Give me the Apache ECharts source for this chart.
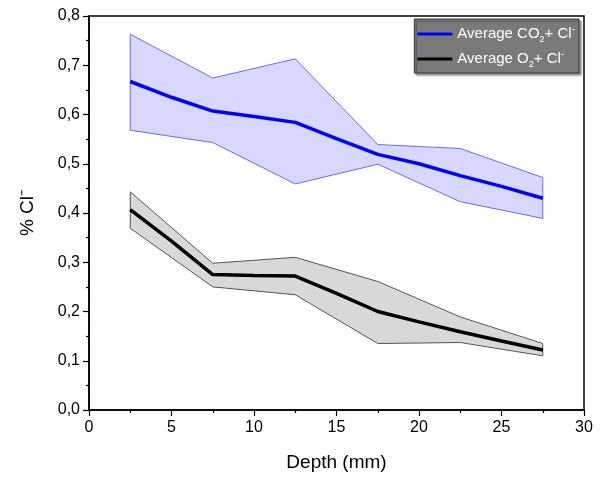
<!DOCTYPE html>
<html>
<head>
<meta charset="utf-8">
<script src="https://cdn.jsdelivr.net/npm/echarts@6/dist/echarts.min.js"></script>
<style>html,body{margin:0;padding:0;background:#fff}#c{width:600px;height:477px}</style>
</head>
<body>
<div id="c"></div>
<script>
// Band data (min / max envelopes)
var xBand = [2.5, 7.5, 12.5, 17.5, 22.5, 27.5];
var co2Upper = [0.763, 0.674, 0.713, 0.539, 0.531, 0.472];
var co2Lower = [0.568, 0.543, 0.459, 0.499, 0.423, 0.389];
var o2Upper = [0.443, 0.298, 0.310, 0.261, 0.189, 0.135];
var o2Lower = [0.369, 0.250, 0.234, 0.135, 0.137, 0.110];
// Average lines
var xMean = [2.5, 5, 7.5, 10, 12.5, 15, 17.5, 20, 22.5, 25, 27.5];
var co2Mean = [0.667, 0.635, 0.607, 0.596, 0.584, 0.551, 0.519, 0.500, 0.476, 0.454, 0.430];
var o2Mean = [0.407, 0.343, 0.275, 0.273, 0.272, 0.237, 0.200, 0.179, 0.159, 0.140, 0.122];
// Axis
var xTicks = [0, 5, 10, 15, 20, 25, 30];
var yTicks = [0, 0.1, 0.2, 0.3, 0.4, 0.5, 0.6, 0.7, 0.8];
var names = ['Average CO2+ Cl-', 'Average O2+ Cl-'];
var legendRich = {
  'Average CO2+ Cl-': '{a|Average CO}{sub|2}{a|+ Cl}{sup|-}',
  'Average O2+ Cl-': '{a|Average O}{sub|2}{a|+ Cl}{sup|-}'
};

function pairs(xs, ys) { return xs.map(function (x, i) { return [x, ys[i]]; }); }

function bandSeries(name, upper, lower, fill, stroke) {
  return {
    type: 'custom', name: name, silent: true, z: 1,
    data: pairs(xBand, upper),
    renderItem: function (params, api) {
      if (params.dataIndex !== 0) return;
      var pts = [];
      for (var i = 0; i < xBand.length; i++) pts.push(api.coord([xBand[i], upper[i]]));
      for (var j = xBand.length - 1; j >= 0; j--) pts.push(api.coord([xBand[j], lower[j]]));
      return {
        type: 'polygon',
        shape: { points: pts },
        style: { fill: fill, stroke: stroke, lineWidth: 1 }
      };
    }
  };
}

var chart = echarts.init(document.getElementById('c'));
chart.setOption({
  animation: false,
  grid: { left: 89, right: 16, top: 16, bottom: 65, show: true, borderColor: '#000', borderWidth: 1.5, backgroundColor: 'transparent' },
  legend: {
    data: names,
    orient: 'vertical',
    right: 21, top: 19,
    backgroundColor: '#7a7a7a',
    borderColor: '#3a3a3a', borderWidth: 1,
    shadowColor: 'rgba(0,0,0,0.45)', shadowOffsetX: 2, shadowOffsetY: 2, shadowBlur: 2,
    padding: [5, 4, 4, 3],
    itemGap: 5,
    itemWidth: 35, itemHeight: 3,
    icon: 'rect',
    formatter: function (n) { return legendRich[n]; },
    textStyle: {
      color: '#fff',
      rich: {
        a: { fontFamily: 'Liberation Sans, Arial', fontSize: 15, color: '#fff', lineHeight: 20 },
        sub: { fontFamily: 'Liberation Sans, Arial', fontSize: 9, color: '#fff', verticalAlign: 'bottom', lineHeight: 20 },
        sup: { fontFamily: 'Liberation Sans, Arial', fontSize: 10, color: '#fff', verticalAlign: 'top', lineHeight: 20 }
      }
    }
  },
  xAxis: {
    type: 'value', min: 0, max: 30, interval: 5,
    name: 'Depth (mm)', nameLocation: 'middle', nameGap: 43,
    nameTextStyle: { fontFamily: 'Liberation Sans, Arial', fontSize: 19, color: '#000' },
    axisLine: { show: true, onZero: false, lineStyle: { color: '#000', width: 1.5 } },
    axisTick: { show: true, length: 6, lineStyle: { color: '#000', width: 1.2 } },
    minorTick: { show: true, splitNumber: 2, length: 3, lineStyle: { color: '#000', width: 1.2 } },
    splitLine: { show: false },
    axisLabel: { fontFamily: 'Liberation Sans, Arial', fontSize: 16, color: '#000', margin: 10,
      formatter: function (v) { return xTicks.indexOf(v) >= 0 ? String(v) : ''; } }
  },
  yAxis: {
    type: 'value', min: 0, max: 0.8, interval: 0.1,
    name: '% Cl⁻', nameLocation: 'middle', nameGap: 52,
    nameTextStyle: { fontFamily: 'Liberation Sans, Arial', fontSize: 19, color: '#000' },
    axisLine: { show: true, onZero: false, lineStyle: { color: '#000', width: 1.5 } },
    axisTick: { show: true, length: 6, lineStyle: { color: '#000', width: 1.2 } },
    minorTick: { show: true, splitNumber: 2, length: 3, lineStyle: { color: '#000', width: 1.2 } },
    splitLine: { show: false },
    axisLabel: { fontFamily: 'Liberation Sans, Arial', fontSize: 16, color: '#000', margin: 9,
      formatter: function (v) { return v.toFixed(1).replace('.', ','); } }
  },
  series: [
    bandSeries('co2band', co2Upper, co2Lower, '#d8d8ff', '#6a6aff'),
    bandSeries('o2band', o2Upper, o2Lower, '#d8d8d8', '#555555'),
    { type: 'line', name: names[0], data: pairs(xMean, co2Mean), showSymbol: false, symbol: 'none', z: 3,
      lineStyle: { color: '#0000ff', width: 3.5 }, itemStyle: { color: '#0000ff' } },
    { type: 'line', name: names[1], data: pairs(xMean, o2Mean), showSymbol: false, symbol: 'none', z: 3,
      lineStyle: { color: '#000000', width: 3.5 }, itemStyle: { color: '#000000' } }
  ]
});
</script>
</body>
</html>
